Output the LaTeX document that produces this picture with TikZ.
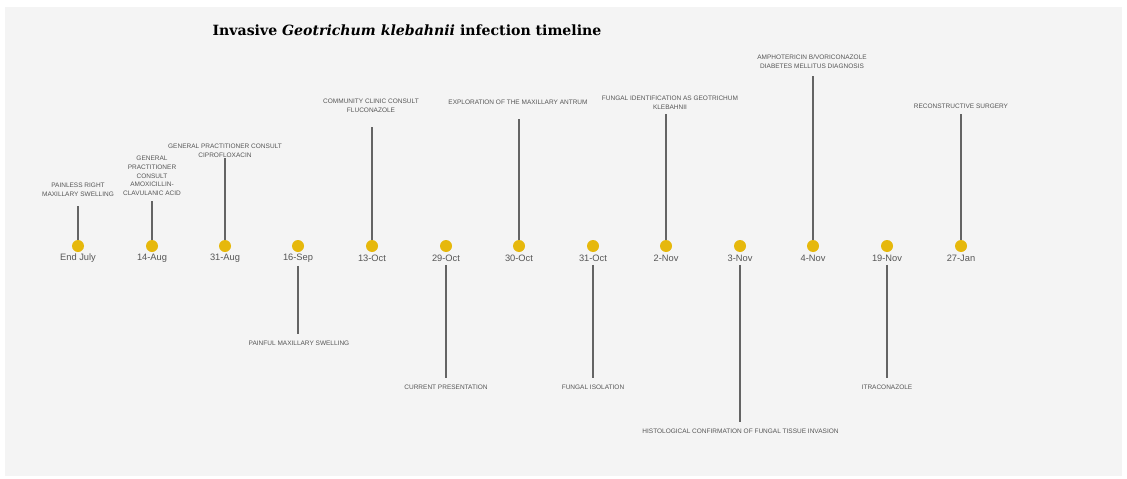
\documentclass[tikz,border=0pt]{standalone}
\usepackage{fontspec}
\setmainfont{Liberation Sans}
\newfontfamily\titlefont{DejaVu Serif}
\usetikzlibrary{backgrounds}
\definecolor{bgc}{RGB}{244,244,244}
\definecolor{dotc}{RGB}{230,184,12}
\definecolor{linec}{RGB}{100,100,100}
\definecolor{axisc}{RGB}{210,210,210}
\definecolor{txtc}{RGB}{85,85,85}
\tikzset{
  dotnode/.style={circle,fill=dotc,draw=none,minimum size=12pt,inner sep=0pt},
  datelbl/.style={font=\fontsize{9.3}{11}\selectfont,text=txtc,inner sep=0pt},
  evlbl/.style={font=\fontsize{6.5}{8.7}\selectfont,text=txtc,inner sep=0pt,align=center},
  conn/.style={draw=linec,line width=1.1pt},
  lowconn/.style={conn,shorten <=3.5pt},
  axisline/.style={draw=axisc,line width=1.2pt}
}
\begin{document}
\begin{tikzpicture}[x=1pt,y=-1pt]
\useasboundingbox (0,0) rectangle (1127,479);
\fill[white] (0,0) rectangle (1127,479);
\fill[bgc] (5,7) rectangle (1122,476);
\node[font=\titlefont\bfseries\fontsize{14.1}{16}\selectfont,inner sep=0pt] (title) at (407,30) {Invasive \textit{Geotrichum klebahnii} infection timeline};
% dots
\foreach \i/\x in {1/78,2/152,3/225,4/298,5/372,6/446,7/519,8/593,9/666,10/740,11/813,12/887,13/961}{
  \node[dotnode] (d\i) at (\x,246) {};
}
\coordinate (axisend) at (1071,246);
\begin{scope}[on background layer]
\draw[axisline] (d1.center) -- (axisend);
\end{scope}
% date labels
\node[datelbl] (t1) at (78,258) {End July};
\node[datelbl] (t2) at (152,258) {14-Aug};
\node[datelbl] (t3) at (225,258) {31-Aug};
\node[datelbl] (t4) at (298,258) {16-Sep};
\node[datelbl] (t5) at (372,258) {13-Oct};
\node[datelbl] (t6) at (446,258) {29-Oct};
\node[datelbl] (t7) at (519,258) {30-Oct};
\node[datelbl] (t8) at (593,258) {31-Oct};
\node[datelbl] (t9) at (666,258) {2-Nov};
\node[datelbl] (t10) at (740,258) {3-Nov};
\node[datelbl] (t11) at (813,258) {4-Nov};
\node[datelbl] (t12) at (887,258) {19-Nov};
\node[datelbl] (t13) at (961,258) {27-Jan};
% upper events
\node[evlbl] (e1) at (78,189.5) {PAINLESS RIGHT\\MAXILLARY SWELLING};
\coordinate (c1) at (78,206);
\draw[conn] (d1.north) -- (c1);
\node[evlbl] (e2) at (152,176) {GENERAL\\PRACTITIONER\\CONSULT\\AMOXICILLIN-\\CLAVULANIC ACID};
\coordinate (c2) at (152,201);
\draw[conn] (d2.north) -- (c2);
\node[evlbl] (e3) at (225,150.5) {GENERAL PRACTITIONER CONSULT\\CIPROFLOXACIN};
\coordinate (c3) at (225,158);
\draw[conn] (d3.north) -- (c3);
\node[evlbl] (e5) at (371,106) {COMMUNITY CLINIC CONSULT\\FLUCONAZOLE};
\coordinate (c5) at (372,127);
\draw[conn] (d5.north) -- (c5);
\node[evlbl] (e7) at (518,102) {EXPLORATION OF THE MAXILLARY ANTRUM};
\coordinate (c7) at (519,119);
\draw[conn] (d7.north) -- (c7);
\node[evlbl] (e9) at (670,102.5) {FUNGAL IDENTIFICATION AS GEOTRICHUM\\KLEBAHNII};
\coordinate (c9) at (666,114);
\draw[conn] (d9.north) -- (c9);
\node[evlbl] (e11) at (812,61.5) {AMPHOTERICIN B/VORICONAZOLE\\DIABETES MELLITUS DIAGNOSIS};
\coordinate (c11) at (813,76);
\draw[conn] (d11.north) -- (c11);
\node[evlbl] (e13) at (961,106) {RECONSTRUCTIVE SURGERY};
\coordinate (c13) at (961,114);
\draw[conn] (d13.north) -- (c13);
% lower events
\node[evlbl] (e4) at (299,343) {PAINFUL MAXILLARY SWELLING};
\coordinate (c4) at (298,334);
\draw[lowconn] (t4.south) -- (c4);
\node[evlbl] (e6) at (446,387) {CURRENT PRESENTATION};
\coordinate (c6) at (446,378);
\draw[lowconn] (t6.south) -- (c6);
\node[evlbl] (e8) at (593,387) {FUNGAL ISOLATION};
\coordinate (c8) at (593,378);
\draw[lowconn] (t8.south) -- (c8);
\node[evlbl] (e10) at (740.5,431) {HISTOLOGICAL CONFIRMATION OF FUNGAL TISSUE INVASION};
\coordinate (c10) at (740,422);
\draw[lowconn] (t10.south) -- (c10);
\node[evlbl] (e12) at (887,387) {ITRACONAZOLE};
\coordinate (c12) at (887,378);
\draw[lowconn] (t12.south) -- (c12);
\end{tikzpicture}
\end{document}
